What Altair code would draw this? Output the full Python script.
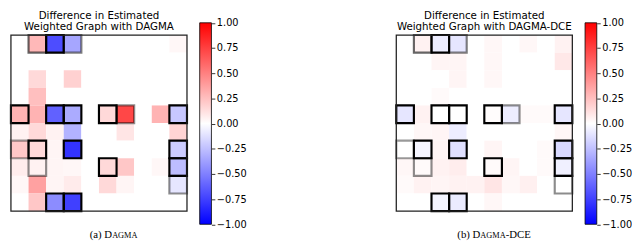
import altair as alt
import pandas as pd

ROWS = list(range(10))
COLS = list(range(10))

# difference matrices (row = source, col = target)
dagma_diff = [
    [0.00, 0.28, -0.70, -0.35, 0.00, 0.00, 0.00, 0.00, 0.00, 0.03],
    [0.00, 0.00, 0.00, 0.00, 0.00, 0.00, 0.00, 0.00, 0.00, 0.00],
    [0.00, 0.15, 0.00, 0.18, 0.00, 0.00, 0.00, 0.00, 0.00, 0.00],
    [0.00, 0.25, 0.00, 0.00, 0.00, 0.00, 0.00, 0.00, 0.00, 0.00],
    [0.30, 0.30, -0.62, -0.33, 0.00, 0.15, 0.72, 0.00, 0.30, -0.22],
    [0.05, 0.15, 0.05, -0.30, 0.00, 0.00, 0.10, 0.00, 0.00, 0.17],
    [0.22, 0.15, 0.04, -0.80, 0.00, 0.00, 0.00, 0.00, 0.00, -0.20],
    [0.07, 0.05, 0.04, 0.03, 0.00, 0.15, 0.22, 0.00, 0.03, -0.26],
    [0.03, 0.37, 0.04, 0.08, 0.00, 0.15, 0.04, 0.00, 0.00, -0.10],
    [0.00, 0.22, -0.45, -0.75, 0.00, 0.00, 0.00, 0.00, 0.00, 0.00],
]
dce_diff = [
    [0.00, 0.05, -0.07, -0.10, 0.00, 0.03, 0.00, 0.03, 0.00, 0.05],
    [0.00, 0.00, 0.04, 0.04, 0.00, 0.03, 0.00, 0.00, 0.00, 0.09],
    [0.00, 0.00, 0.00, 0.04, 0.00, 0.03, 0.00, 0.00, 0.00, 0.00],
    [0.00, 0.00, 0.02, 0.00, 0.00, 0.00, 0.00, 0.00, 0.00, 0.00],
    [-0.10, 0.05, 0.00, 0.00, 0.00, 0.01, -0.07, 0.02, 0.02, -0.10],
    [0.00, 0.03, 0.04, -0.07, 0.00, 0.00, 0.00, 0.00, 0.00, 0.03],
    [0.00, -0.04, 0.04, -0.12, 0.00, 0.04, 0.00, 0.00, 0.02, -0.15],
    [0.03, 0.02, 0.05, 0.07, 0.00, 0.02, 0.04, 0.00, 0.02, -0.06],
    [0.02, 0.05, 0.04, 0.05, 0.05, 0.10, 0.03, 0.06, 0.00, 0.00],
    [0.00, 0.00, -0.04, -0.08, 0.00, 0.03, 0.00, 0.00, 0.00, 0.00],
]

# true edges (outlined cells) and outline strength
edge_rows = [0, 0, 0, 4, 4, 4, 4, 4, 4, 6, 6, 6, 6, 7, 7, 7, 8, 9, 9]
edge_cols = [1, 2, 3, 0, 2, 3, 5, 6, 9, 0, 1, 3, 9, 1, 5, 9, 9, 2, 3]
edge_alpha = [0.6, 1, 0.5, 1, 1, 1, 1, 0.45, 1, 0.4, 1, 1, 1, 0.45, 1, 1, 0.45, 1, 1]

cbar_ticks = [-1.0, -0.75, -0.5, -0.25, 0.0, 0.25, 0.5, 0.75, 1.0]

title_a = ["Difference in Estimated", "Weighted Graph with DAGMA"]
title_b = ["Difference in Estimated", "Weighted Graph with DAGMA-DCE"]
caption_a = ["(a) D", "AGMA"]
caption_a_sizes = [11, 8.5]
caption_b = ["(b) D", "AGMA", "-DCE"]
caption_b_sizes = [11, 8.5, 11]

PLOT = 180
CB_GAP = 13
CB_THICK = 12
CB_TOP = -12.5
CB_BOTTOM = PLOT + 13.5

# Times-like advance widths (em) for caption layout
TW = {"(": 0.333, ")": 0.333, " ": 0.25, "a": 0.444, "b": 0.5, "D": 0.722,
      "A": 0.722, "G": 0.722, "M": 0.889, "-": 0.333, "C": 0.667, "E": 0.611}


def text_width(s, size):
    return sum(TW.get(ch, 0.5) for ch in s) * size


def panel(matrix, title_lines, cap_parts, cap_sizes, cap_center):
    df = pd.DataFrame(
        [{"row": r, "col": c, "value": matrix[r][c]} for r in ROWS for c in COLS]
    )
    edf = pd.DataFrame({"row": edge_rows, "col": edge_cols, "alpha": edge_alpha})
    tdf = pd.DataFrame({"v": cbar_ticks})

    xs = alt.X("col:O", axis=None, scale=alt.Scale(domain=COLS, paddingInner=0, paddingOuter=0))
    ys = alt.Y("row:O", axis=None, scale=alt.Scale(domain=ROWS, paddingInner=0, paddingOuter=0))

    heat = alt.Chart(df).mark_rect().encode(
        x=xs,
        y=ys,
        color=alt.Color(
            "value:Q",
            scale=alt.Scale(domain=[-1, 0, 1], range=["#0000ff", "#ffffff", "#ff0000"], interpolate="rgb"),
            legend=alt.Legend(
                orient="none",
                legendX=PLOT + CB_GAP,
                legendY=CB_TOP,
                direction="vertical",
                gradientLength=CB_BOTTOM - CB_TOP,
                gradientThickness=CB_THICK,
                gradientStrokeColor="black",
                gradientStrokeWidth=0.8,
                labelOpacity=0,
                labelFontSize=1,
                title=None,
            ),
        ),
    )
    edges = alt.Chart(edf).mark_rect(fillOpacity=0, stroke="black", strokeWidth=2.2).encode(
        x=xs, y=ys, strokeOpacity=alt.StrokeOpacity("alpha:Q", scale=None)
    )
    frame = alt.Chart(pd.DataFrame({"f": [0]})).mark_rect(
        fillOpacity=0, stroke="#222222", strokeWidth=1.3
    ).encode(x=alt.value(0), x2=alt.value(PLOT), y=alt.value(0), y2=alt.value(PLOT))
    grid = alt.layer(heat, edges)

    cbar_axis = alt.Chart(tdf).mark_point(opacity=0).encode(
        x=alt.value(0),
        y=alt.Y(
            "v:Q",
            scale=alt.Scale(domain=[-1, 1], range=[CB_BOTTOM, CB_TOP]),
            axis=alt.Axis(
                orient="right",
                offset=CB_GAP + CB_THICK,
                values=cbar_ticks,
                format=".2f",
                domain=False,
                grid=False,
                ticks=True,
                tickSize=3.5,
                tickWidth=0.8,
                tickColor="black",
                labelFont="DejaVu Sans",
                labelFontSize=10,
                labelColor="black",
                labelPadding=1.5,
                title=None,
                labelFlush=False,
                labelOverlap=False,
            ),
        ),
    )

    # two-line title
    titles = []
    for i, line in enumerate(title_lines):
        tl = pd.DataFrame({"t": [line]})
        titles.append(
            alt.Chart(tl).mark_text(
                font="DejaVu Sans", fontSize=10.5, align="center", baseline="alphabetic", color="black"
            ).encode(x=alt.value(PLOT / 2), y=alt.value(-16.5 + 11 * i), text="t:N")
        )

    # caption pieces (small caps emulation)
    total = sum(text_width(p, s) for p, s in zip(cap_parts, cap_sizes))
    x0 = cap_center - total / 2
    caps = []
    for p, s in zip(cap_parts, cap_sizes):
        cdf = pd.DataFrame({"t": [p]})
        caps.append(
            alt.Chart(cdf).mark_text(
                font="Liberation Serif", fontSize=s, align="left", baseline="alphabetic", color="black"
            ).encode(x=alt.value(x0), y=alt.value(PLOT + 28), text="t:N")
        )
        x0 += text_width(p, s)

    ch = alt.layer(grid, frame, cbar_axis, *titles, *caps).resolve_scale(y="independent").properties(
        width=PLOT,
        height=PLOT,
    )
    return ch


left = panel(dagma_diff, title_a, caption_a, caption_a_sizes, 105)
right = panel(dce_diff, title_b, caption_b, caption_b_sizes, 100)

chart = (
    alt.hconcat(left, right, spacing=150)
    .resolve_scale(color="independent")
    .properties(padding=0)
    .configure_view(stroke=None)
)

chart.save("out.html", embed_options={"renderer": "svg", "actions": False})
